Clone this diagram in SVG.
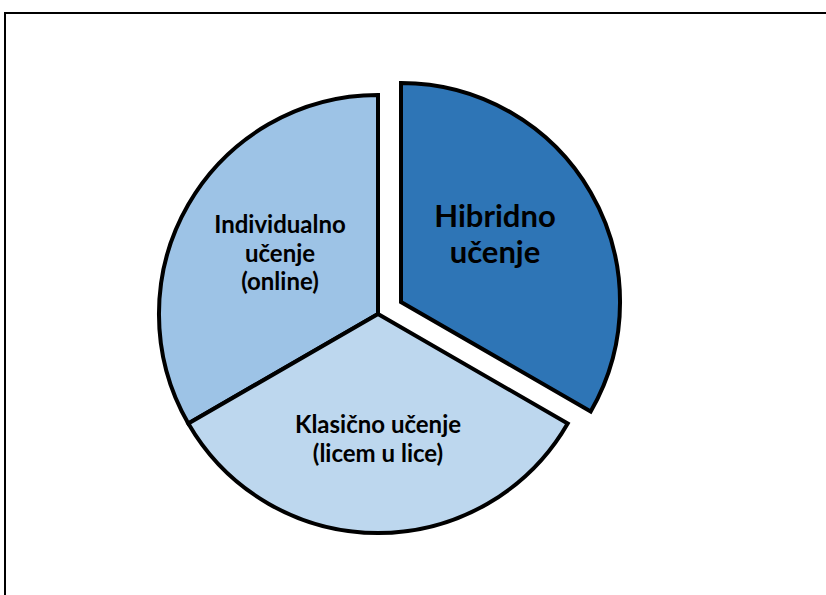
<svg xmlns="http://www.w3.org/2000/svg" width="826" height="595" viewBox="0 0 826 595">
<style>
.slice{stroke:#000;stroke-width:4;stroke-linejoin:miter}
.lbl{font-family:Lato,"Liberation Sans",sans-serif;font-weight:bold;fill:#000;text-anchor:middle}
.s{font-size:24px}
.b{font-size:31px}
</style>
<rect x="0" y="0" width="826" height="595" fill="#fff"/>
<rect x="5" y="13" width="900" height="700" fill="none" stroke="#000" stroke-width="2"/>
<g id="individualno">
<path class="slice" fill="#9DC3E6" d="M378,314 L188.3,423.5 A219,219 0 0 1 378,95 Z"/>
<text class="lbl s" x="280" y="233">Individualno</text>
<text class="lbl s" x="280" y="262">učenje</text>
<text class="lbl s" x="280" y="290">(online)</text>
</g>
<g id="klasicno">
<path class="slice" fill="#BDD7EE" d="M378,314 L567.7,423.5 A219,219 0 0 1 188.3,423.5 Z"/>
<text class="lbl s" x="378" y="433">Klasično učenje</text>
<text class="lbl s" x="378" y="462">(licem u lice)</text>
</g>
<g id="hibridno">
<path class="slice" fill="#2E75B6" d="M401,302 L401,83 A219,219 0 0 1 590.7,411.5 Z"/>
<text class="lbl b" x="495" y="227">Hibridno</text>
<text class="lbl b" x="495" y="263">učenje</text>
</g>
<g id="connectors"/>
</svg>
